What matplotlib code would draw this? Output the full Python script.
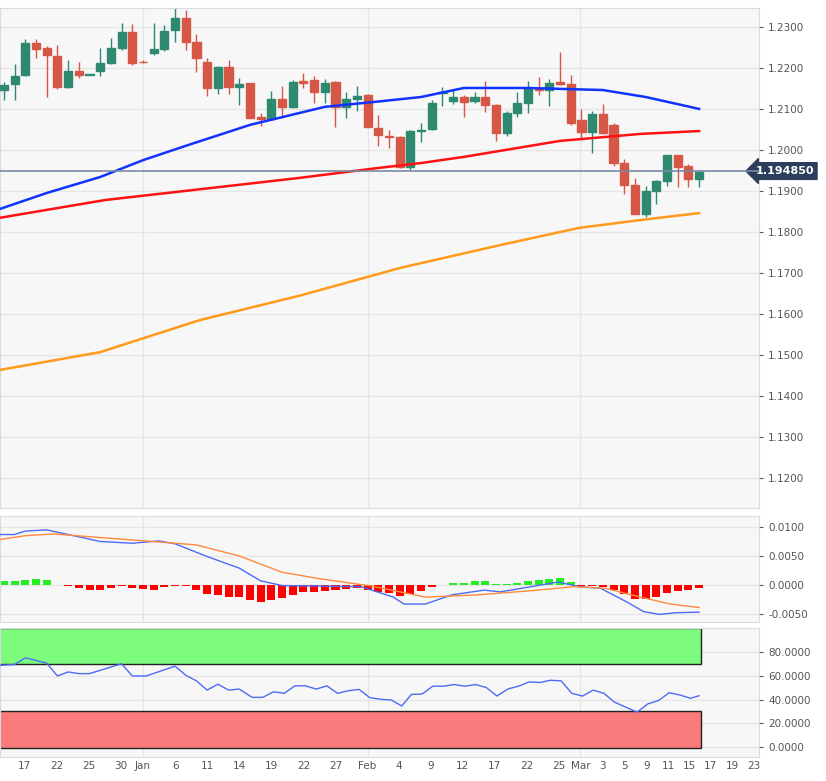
import matplotlib.pyplot as plt
import numpy as np
from matplotlib.patches import Rectangle

# daily candles, oldest first
opens = [1.2146, 1.2161, 1.2183, 1.2261, 1.2249, 1.2229, 1.2154, 1.2193, 1.2183, 1.2193,
         1.2212, 1.2249, 1.2288, 1.2215, 1.2236, 1.2246, 1.2293, 1.2322, 1.2263, 1.2215,
         1.2151, 1.2202, 1.2154, 1.2163, 1.2081, 1.2076, 1.2124, 1.2105, 1.2168, 1.2171,
         1.2141, 1.2166, 1.2105, 1.2124, 1.2134, 1.2054, 1.2034, 1.2032, 1.1958, 1.2046,
         1.2051, 1.2139, 1.2120, 1.2129, 1.2120, 1.2129, 1.2110, 1.2041, 1.2090, 1.2115,
         1.2151, 1.2146, 1.2166, 1.2161, 1.2073, 1.2044, 1.2088, 1.2061, 1.1968, 1.1915,
         1.1844, 1.1900, 1.1924, 1.1988, 1.1961, 1.1929]
highs = [1.2166, 1.2210, 1.2271, 1.2271, 1.2254, 1.2256, 1.2220, 1.2215, 1.2184, 1.2249,
         1.2273, 1.2310, 1.2307, 1.2220, 1.2310, 1.2305, 1.2346, 1.2342, 1.2283, 1.2224,
         1.2205, 1.2220, 1.2176, 1.2163, 1.2090, 1.2144, 1.2156, 1.2171, 1.2188, 1.2180,
         1.2173, 1.2168, 1.2141, 1.2156, 1.2137, 1.2085, 1.2049, 1.2034, 1.2049, 1.2066,
         1.2122, 1.2154, 1.2149, 1.2134, 1.2141, 1.2168, 1.2112, 1.2095, 1.2141, 1.2168,
         1.2178, 1.2173, 1.2239, 1.2183, 1.2100, 1.2095, 1.2112, 1.2066, 1.1978, 1.1932,
         1.1912, 1.1927, 1.1988, 1.1988, 1.1966, 1.1951]
lows = [1.2122, 1.2122, 1.2180, 1.2224, 1.2129, 1.2149, 1.2151, 1.2176, 1.2182, 1.2180,
        1.2210, 1.2244, 1.2207, 1.2212, 1.2232, 1.2241, 1.2263, 1.2244, 1.2190, 1.2132,
        1.2137, 1.2137, 1.2110, 1.2078, 1.2059, 1.2073, 1.2078, 1.2102, 1.2151, 1.2115,
        1.2115, 1.2056, 1.2078, 1.2095, 1.2056, 1.2010, 1.2005, 1.1956, 1.1951, 1.2019,
        1.2049, 1.2107, 1.2112, 1.2081, 1.2115, 1.2093, 1.2022, 1.2034, 1.2081, 1.2090,
        1.2134, 1.2107, 1.2158, 1.2061, 1.2029, 1.1993, 1.2039, 1.1961, 1.1893, 1.1844,
        1.1836, 1.1868, 1.1912, 1.1910, 1.1910, 1.1910]
closes = [1.2158, 1.2180, 1.2261, 1.2246, 1.2232, 1.2154, 1.2193, 1.2183, 1.2183, 1.2212,
          1.2249, 1.2288, 1.2212, 1.2214, 1.2246, 1.2290, 1.2322, 1.2263, 1.2224, 1.2151,
          1.2202, 1.2154, 1.2161, 1.2078, 1.2076, 1.2124, 1.2105, 1.2166, 1.2163, 1.2141,
          1.2163, 1.2105, 1.2124, 1.2132, 1.2056, 1.2037, 1.2032, 1.1958, 1.2046, 1.2049,
          1.2115, 1.2141, 1.2129, 1.2117, 1.2129, 1.2110, 1.2041, 1.2090, 1.2115, 1.2151,
          1.2146, 1.2163, 1.2161, 1.2066, 1.2044, 1.2088, 1.2041, 1.1968, 1.1915, 1.1844,
          1.1900, 1.1924, 1.1988, 1.1958, 1.1929, 1.1946]
last_price = 1.194850

# moving averages read at sample candles
sma50_x = [-0.5, 4, 9, 13, 17, 23, 30, 35, 39, 43, 49, 56, 60, 65]
sma50_y = [1.1855, 1.1895, 1.1934, 1.1975, 1.2010, 1.2061, 1.2105, 1.2118, 1.2129, 1.2151,
           1.2151, 1.2146, 1.2129, 1.2100]
sma100_x = [-0.5, 9.5, 22, 27.7, 35, 39, 43, 52, 59.5, 65]
sma100_y = [1.1834, 1.1878, 1.1915, 1.1932, 1.1956, 1.1968, 1.1983, 1.2022, 1.2039, 1.2046]
sma200_x = [-0.5, 9, 18.3, 27.7, 37, 46.4, 53.8, 59.5, 65]
sma200_y = [1.1463, 1.1507, 1.1585, 1.1645, 1.1712, 1.1768, 1.1810, 1.1829, 1.1846]

# MACD
macd_hist = [0.0007, 0.0007, 0.0008, 0.0011, 0.0008, 0.0, -0.0002, -0.0005, -0.0008, -0.0008,
             -0.0006, -0.0002, -0.0005, -0.0007, -0.0008, -0.0004, -0.0002, -0.0002, -0.0008, -0.0016,
             -0.0017, -0.0020, -0.0021, -0.0026, -0.0029, -0.0026, -0.0022, -0.0017, -0.0013, -0.0012,
             -0.0010, -0.0008, -0.0007, -0.0006, -0.0008, -0.0012, -0.0014, -0.0019, -0.0015, -0.0010,
             -0.0004, 0.0, 0.0003, 0.0004, 0.0007, 0.0007, 0.0002, 0.0002, 0.0003, 0.0006,
             0.0009, 0.0011, 0.0012, 0.0005, -0.0001, -0.0002, -0.0003, -0.0008, -0.0016, -0.0024,
             -0.0025, -0.0021, -0.0014, -0.0010, -0.0008, -0.0006]
macd_x = [-0.5, 1, 2, 4, 6, 9, 12, 14.5, 16, 19, 22, 24, 26, 29.4, 33.4, 36.4, 37.4, 39.4,
          41.9, 44.9, 46.4, 49.3, 51.8, 53.8, 55.8, 58.3, 59.8, 61.3, 62.8, 65]
macd_y = [0.0087, 0.0087, 0.0093, 0.0095, 0.0087, 0.0075, 0.0072, 0.0076, 0.0071, 0.0049,
          0.0029, 0.0007, -0.0001, -0.0002, -0.0003, -0.0021, -0.0033, -0.0033, -0.0017, -0.0009,
          -0.0012, -0.0003, 0.0005, -0.0003, -0.0006, -0.0030, -0.0046, -0.0051, -0.0048, -0.0047]
signal_x = [-0.5, 2, 4.6, 7.5, 11, 16, 18, 22, 26, 29.4, 34.4, 39.4, 44.4, 49.3, 53.3, 56.3, 59.3, 62.3, 65]
signal_y = [0.0078, 0.0085, 0.0088, 0.0084, 0.0079, 0.0072, 0.0069, 0.0050, 0.0022, 0.0011,
            -0.0002, -0.0021, -0.0017, -0.0010, -0.0003, -0.0006, -0.0020, -0.0033, -0.0039]

# RSI
rsi_x = [-0.5, 1, 2, 4, 5, 6, 7, 8, 11, 12, 13.3, 16, 17, 18, 19, 20, 21, 22, 23.2, 24.2,
         25.2, 26.2, 27.2, 28.2, 29.2, 30.2, 31.2, 32.2, 33.2, 34.2, 35.2, 36.2, 37.2, 38.1, 39.1,
         40.1, 41.1, 42.1, 43.1, 44.1, 45.1, 46.1, 47.1, 48.1, 49.1, 50.1, 51.1, 52.1, 53.1, 54.1,
         55.1, 56.1, 57.1, 58.0, 59.2, 60.2, 61.2, 62.2, 63.2, 64.2, 65]
rsi_y = [68.7, 69.5, 75.1, 70.6, 59.8, 63.2, 61.8, 61.8, 70.1, 59.8, 59.8, 68.1, 60.4, 55.7, 47.9,
         52.9, 47.9, 48.8, 41.8, 41.8, 46.5, 45.2, 51.5, 51.5, 48.8, 51.5, 45.2, 47.4, 48.5, 41.6,
         40.2, 39.6, 34.6, 44.3, 44.6, 51.2, 51.2, 52.6, 51.2, 52.6, 50.1, 42.9, 48.8, 51.2, 54.8,
         54.3, 56.2, 55.7, 45.2, 42.9, 47.9, 45.2, 37.7, 34.1, 29.4, 36.3, 39.1, 45.7, 43.8, 41.0, 43.2]

tick_pos = [1.96, 4.95, 7.94, 10.93, 13.0, 16, 19, 22, 25, 28, 31, 34, 36.9, 39.9, 42.9, 45.9,
            48.9, 51.9, 53.9, 56, 58, 60.1, 62.1, 64.1, 66.1, 68.1, 70.1]
tick_labels = ["17", "22", "25", "30", "Jan", "6", "11", "14", "19", "22", "27", "Feb", "4", "9",
               "12", "17", "22", "25", "Mar", "3", "5", "9", "11", "15", "17", "19", "23"]
month_starts = [13.0, 34, 53.9]

GREEN = "#2f8870"
RED = "#d65746"
BG = "#f7f7f7"
GRID = "#e6e6e6"
TXT = "#555555"

fig = plt.figure(figsize=(8.26, 7.81), dpi=100)
L, R = 0.0, 759 / 826
ax = fig.add_axes([L, 1 - 508 / 781, R, 500 / 781])
ax2 = fig.add_axes([L, 1 - 622 / 781, R, 106 / 781], sharex=ax)
ax3 = fig.add_axes([L, 1 - 757 / 781, R, 129 / 781], sharex=ax)

for a in (ax, ax2, ax3):
    a.set_facecolor(BG)
    for s in a.spines.values():
        s.set_color("#d8dbe6")
    a.yaxis.tick_right()
    a.tick_params(axis="y", labelsize=7.5, colors=TXT, length=3)
    a.tick_params(axis="x", length=0)
    for m in month_starts:
        a.axvline(m, color=GRID, lw=1, zorder=0)
    a.grid(axis="y", color=GRID, lw=1, zorder=0)
    a.set_axisbelow(True)

# candles
idx = np.arange(len(opens))
for i in idx:
    o, h, l, c = opens[i], highs[i], lows[i], closes[i]
    col = GREEN if c >= o else RED
    ax.vlines(i, l, h, color=col, lw=1, zorder=2)
    body = max(abs(c - o), 0.00012)
    ax.add_patch(Rectangle((i - 0.38, min(o, c)), 0.76, body, color=col, zorder=3))

ax.plot(sma50_x, sma50_y, color="#1133ff", lw=1.8, zorder=4)
ax.plot(sma100_x, sma100_y, color="#ff1111", lw=1.8, zorder=4)
ax.plot(sma200_x, sma200_y, color="#ff9a1a", lw=1.8, zorder=4)
ax.axhline(last_price, color="#7a8aa3", lw=1.2, zorder=5)
ax.text(0.995, last_price, f"{last_price:.6f}", transform=ax.get_yaxis_transform(),
        color="white", fontsize=8, fontweight="bold", va="center", ha="left",
        bbox=dict(boxstyle="larrow,pad=0.3", fc="#2d3e5c", ec="#2d3e5c"), clip_on=False)
ax.set_ylim(1.1127, 1.2346)
ax.set_yticks(np.arange(1.12, 1.2301, 0.01))
ax.yaxis.set_major_formatter(plt.FormatStrFormatter("%.4f"))
ax.set_xlim(-0.37, 70.6)
ax.tick_params(axis="x", labelbottom=False)

# MACD panel
hist_cols = ["#22ee22" if v > 0 else "#ff0000" for v in macd_hist]
ax2.bar(idx, macd_hist, width=0.75, color=hist_cols, zorder=2)
ax2.plot(macd_x, macd_y, color="#4d6bf5", lw=1, zorder=3)
ax2.plot(signal_x, signal_y, color="#ff8a3d", lw=1, zorder=3)
ax2.set_ylim(-0.0064, 0.0119)
ax2.set_yticks([-0.005, 0.0, 0.005, 0.01])
ax2.yaxis.set_major_formatter(plt.FormatStrFormatter("%.4f"))
ax2.tick_params(axis="x", labelbottom=False)

# RSI panel
n = len(opens)
ax3.add_patch(Rectangle((-0.5, 70), n - 0.3, 30.5, fc="#7cfb7c", ec="#222222", lw=1, zorder=1))
ax3.add_patch(Rectangle((-0.5, -1), n - 0.3, 31, fc="#fa7b7b", ec="#222222", lw=1, zorder=1))
ax3.plot(rsi_x, rsi_y, color="#4d6bf5", lw=1, zorder=3)
ax3.set_ylim(-8.4, 100.2)
ax3.set_yticks([0, 20, 40, 60, 80])
ax3.yaxis.set_major_formatter(plt.FormatStrFormatter("%.4f"))
ax3.set_xticks(tick_pos)
ax3.set_xticklabels(tick_labels, fontsize=7.5, color=TXT)
ax3.tick_params(axis="x", pad=3)

fig.savefig("out.png", dpi=100)
